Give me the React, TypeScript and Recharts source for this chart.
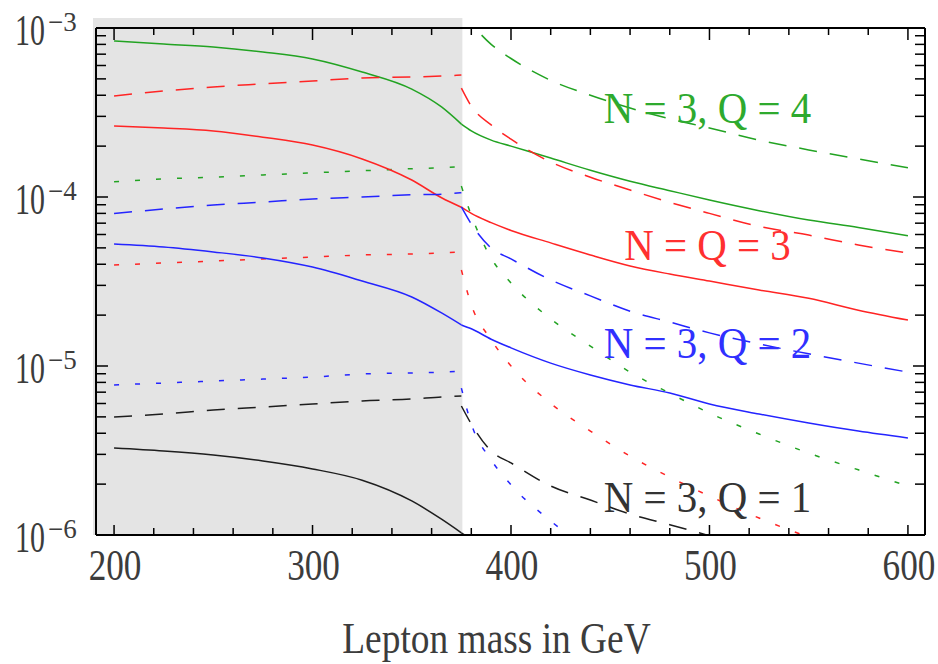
import React from 'react';
import { LineChart, Line, XAxis, YAxis, ReferenceArea, ReferenceDot } from 'recharts';

// ---- data ----
const massL = [200, 225, 250, 275, 300, 325, 350, 365, 375];
const massR = [375, 380, 390, 400, 420, 440, 460, 480, 500, 525, 550, 575, 600];

// N = 3, Q = 4 (green)
const q4SolidL = [8.37e-4, 8.04e-4, 7.72e-4, 7.21e-4, 6.56e-4, 5.49e-4, 4.35e-4, 3.41e-4, 2.7e-4];
const q4SolidR = [2.7e-4, 2.46e-4, 2.17e-4, 2.0e-4, 1.7e-4, 1.44e-4, 1.24e-4, 1.09e-4, 9.6e-5, 8.3e-5, 7.3e-5, 6.6e-5, 5.9e-5];
const q4DashR = [1.25e-3, 1.06e-3, 8.0e-4, 6.6e-4, 4.9e-4, 4.0e-4, 3.36e-4, 2.9e-4, 2.56e-4, 2.17e-4, 1.9e-4, 1.68e-4, 1.49e-4];
const q4DotL = [1.23e-4, 1.28e-4, 1.31e-4, 1.35e-4, 1.39e-4, 1.43e-4, 1.47e-4, 1.49e-4, 1.51e-4];
const q4DotR = [1.16e-4, 7.8e-5, 4.35e-5, 3.1e-5, 1.9e-5, 1.31e-5, 9.2e-6, 6.9e-6, 5.27e-6, 3.96e-6, 3.05e-6, 2.43e-6, 1.95e-6];

// N = Q = 3 (red)
const q3SolidL = [2.63e-4, 2.56e-4, 2.46e-4, 2.26e-4, 2.03e-4, 1.68e-4, 1.26e-4, 9.9e-5, 8.7e-5];
const q3SolidR = [8.7e-5, 8.0e-5, 7.05e-5, 6.34e-5, 5.35e-5, 4.54e-5, 3.91e-5, 3.5e-5, 3.18e-5, 2.82e-5, 2.52e-5, 2.14e-5, 1.87e-5];
const q3DashL = [3.96e-4, 4.24e-4, 4.48e-4, 4.67e-4, 4.86e-4, 5.06e-4, 5.13e-4, 5.2e-4, 5.27e-4];
const q3DashR = [4.41e-4, 3.45e-4, 2.67e-4, 2.2e-4, 1.61e-4, 1.31e-4, 1.1e-4, 9.3e-5, 8.0e-5, 6.7e-5, 5.95e-5, 5.2e-5, 4.66e-5];
const q3DotL = [3.96e-5, 4.07e-5, 4.18e-5, 4.3e-5, 4.41e-5, 4.54e-5, 4.6e-5, 4.66e-5, 4.73e-5];
const q3DotR = [3.7e-5, 2.3e-5, 1.43e-5, 1.0e-5, 6.0e-6, 4.12e-6, 2.93e-6, 2.2e-6, 1.7e-6, 1.26e-6, 9.7e-7, null, null];

// N = 3, Q = 2 (blue)
const q2SolidL = [5.27e-5, 5.06e-5, 4.73e-5, 4.36e-5, 3.85e-5, 3.18e-5, 2.56e-5, 2.06e-5, 1.75e-5];
const q2SolidR = [1.75e-5, 1.66e-5, 1.44e-5, 1.28e-5, 1.04e-5, 8.85e-6, 7.73e-6, 6.92e-6, 5.96e-6, 5.2e-6, 4.6e-6, 4.12e-6, 3.75e-6];
const q2DashL = [8.0e-5, 8.49e-5, 8.97e-5, 9.33e-5, 9.73e-5, 1.0e-4, 1.03e-4, 1.04e-4, 1.06e-4];
const q2DashR = [8.73e-5, 6.92e-5, 4.99e-5, 4.3e-5, 3.23e-5, 2.6e-5, 2.11e-5, 1.82e-5, 1.57e-5, 1.35e-5, 1.18e-5, 1.04e-5, 9.2e-6];
const q2DotL = [7.73e-6, 7.93e-6, 8.15e-6, 8.37e-6, 8.6e-6, 8.97e-6, 9.1e-6, 9.2e-6, 9.34e-6];
const q2DotR = [7.4e-6, 4.54e-6, 2.78e-6, 1.98e-6, 1.21e-6, 8.1e-7, null, null, null, null, null, null, null];

// N = 3, Q = 1 (black)
const q1SolidL = [3.27e-6, 3.14e-6, 2.97e-6, 2.74e-6, 2.46e-6, 2.11e-6, 1.59e-6, 1.24e-6, 1.03e-6];
const q1SolidR = [1.03e-6, 9.4e-7, null, null, null, null, null, null, null, null, null, null, null];
const q1DashL = [4.99e-6, 5.2e-6, 5.49e-6, 5.72e-6, 5.96e-6, 6.21e-6, 6.38e-6, 6.56e-6, 6.64e-6];
const q1DashR = [5.8e-6, 4.54e-6, 3.14e-6, 2.67e-6, 1.95e-6, 1.61e-6, 1.33e-6, 1.15e-6, 9.9e-7, null, null, null, null];

// shaded (excluded) mass region and axis ranges
const shadedMass = [189.4, 375.5];
const shadedTop = 1.146e-3;
const xDomain = [190.9, 608.6];
const yDomain = [1e-6, 1e-3];

// ticks
const xTicks = [200, 220, 240, 260, 280, 300, 320, 340, 360, 380, 400, 420, 440, 460, 480, 500, 520, 540, 560, 580, 600];
const xTickLabels = [200, 300, 400, 500, 600];
const yTicks = [
  1e-6, 2e-6, 3e-6, 4e-6, 5e-6, 6e-6, 7e-6, 8e-6, 9e-6,
  1e-5, 2e-5, 3e-5, 4e-5, 5e-5, 6e-5, 7e-5, 8e-5, 9e-5,
  1e-4, 2e-4, 3e-4, 4e-4, 5e-4, 6e-4, 7e-4, 8e-4, 9e-4,
  1e-3,
];
const yTickExponents = [-6, -5, -4, -3];

// curve labels
const curveLabels = ['N = 3, Q = 4', 'N = Q = 3', 'N = 3, Q = 2', 'N = 3, Q = 1'];
const curveLabelMass = 499;
const curveLabelValues = [2.74e-4, 4.24e-5, 1.11e-5, 1.37e-6];
const xAxisTitle = 'Lepton mass in GeV';

// ---- styles ----
const GREEN = '#22a322';
const RED = '#ff2424';
const BLUE = '#2424ff';
const BLACK = '#1e1e1e';
const TEXT = '#3c3c3c';
const FONT = "'Liberation Serif', 'DejaVu Serif', serif";
const DASH = '18 13';
const DOT = '5 16';
const labelColors = ['#2eaa2e', '#ff3030', '#3030ff', '#333333'];
const labelScale = [0.93, 0.93, 0.93, 0.93];

const zip = (mass: number[], vals: (number | null)[]) => mass.map((m, i) => ({ m, v: vals[i] }));

const series = [
  { id: 'q4s', color: GREEN, dash: undefined, mass: massL, vals: q4SolidL },
  { id: 'q4s2', color: GREEN, dash: undefined, mass: massR, vals: q4SolidR },
  { id: 'q4d2', color: GREEN, dash: DASH, mass: massR, vals: q4DashR },
  { id: 'q4t', color: GREEN, dash: DOT, mass: massL, vals: q4DotL },
  { id: 'q4t2', color: GREEN, dash: DOT, mass: massR, vals: q4DotR },
  { id: 'q3s', color: RED, dash: undefined, mass: massL, vals: q3SolidL },
  { id: 'q3s2', color: RED, dash: undefined, mass: massR, vals: q3SolidR },
  { id: 'q3d', color: RED, dash: DASH, mass: massL, vals: q3DashL },
  { id: 'q3d2', color: RED, dash: DASH, mass: massR, vals: q3DashR },
  { id: 'q3t', color: RED, dash: DOT, mass: massL, vals: q3DotL },
  { id: 'q3t2', color: RED, dash: DOT, mass: massR, vals: q3DotR },
  { id: 'q2s', color: BLUE, dash: undefined, mass: massL, vals: q2SolidL },
  { id: 'q2s2', color: BLUE, dash: undefined, mass: massR, vals: q2SolidR },
  { id: 'q2d', color: BLUE, dash: DASH, mass: massL, vals: q2DashL },
  { id: 'q2d2', color: BLUE, dash: DASH, mass: massR, vals: q2DashR },
  { id: 'q2t', color: BLUE, dash: DOT, mass: massL, vals: q2DotL },
  { id: 'q2t2', color: BLUE, dash: DOT, mass: massR, vals: q2DotR },
  { id: 'q1s', color: BLACK, dash: undefined, mass: massL, vals: q1SolidL },
  { id: 'q1s2', color: BLACK, dash: undefined, mass: massR, vals: q1SolidR },
  { id: 'q1d', color: BLACK, dash: DASH, mass: massL, vals: q1DashL },
  { id: 'q1d2', color: BLACK, dash: DASH, mass: massR, vals: q1DashR },
];

const isMajorY = (v: number) => {
  const l = Math.log10(v);
  return Math.abs(l - Math.round(l)) < 1e-6 && yTickExponents.includes(Math.round(l));
};

// condensed text: horizontally scaled via transform
const CText = ({ x, y, sx, size, anchor, fill, children }: any) => (
  <g transform={`translate(${x},${y}) scale(${sx},1)`}>
    <text x={0} y={0} textAnchor={anchor} fontFamily={FONT} fontSize={size} fill={fill}>{children}</text>
  </g>
);

const XTickBottom = (props: any) => {
  const { x, y, payload } = props;
  const v = payload.value;
  const major = xTickLabels.includes(v);
  return (
    <g>
      <line x1={x} y1={y} x2={x} y2={y - (major ? 10 : 7)} stroke="#000" strokeWidth={1.5} />
      {major && <CText x={x + 1} y={y + 45} sx={0.8} size={44} anchor="middle" fill={TEXT}>{v}</CText>}
    </g>
  );
};

const XTickTop = (props: any) => {
  const { x, y, payload } = props;
  const major = xTickLabels.includes(payload.value);
  return <line x1={x} y1={y} x2={x} y2={y + (major ? 12 : 7)} stroke="#000" strokeWidth={1.5} />;
};

const YTickLeft = (props: any) => {
  const { x, y, payload } = props;
  const v = payload.value;
  const major = isMajorY(v);
  const e = Math.round(Math.log10(v));
  return (
    <g>
      <line x1={x} y1={y} x2={x + (major ? 12 : 10)} y2={y} stroke="#000" strokeWidth={1.5} />
      {major && (
        <g>
          <CText x={x - 81} y={y + 17} sx={0.68} size={44} anchor="start" fill={TEXT}>10</CText>
          <text x={x - 48} y={y + 3} fontFamily={FONT} fontSize={27} fill={TEXT}>{'\u2212' + String(-e)}</text>
        </g>
      )}
    </g>
  );
};

const YTickRight = (props: any) => {
  const { x, y, payload } = props;
  const major = isMajorY(payload.value);
  return <line x1={x} y1={y} x2={x - (major ? 12 : 10)} y2={y} stroke="#000" strokeWidth={1.5} />;
};

const makeCurveLabel = (i: number) => (props: any) => {
  const vb = props.viewBox || {};
  return (
    <CText x={vb.x} y={vb.y} sx={labelScale[i]} size={44} anchor="middle" fill={labelColors[i]}>
      {curveLabels[i]}
    </CText>
  );
};

const axisTitle = (props: any) => {
  const vb = props.viewBox || { x: 96, y: 535, width: 829, height: 30 };
  return (
    <CText x={vb.x + vb.width / 2 - 14} y={vb.y + 118} sx={0.85} size={44} anchor="middle" fill={TEXT}>
      {xAxisTitle}
    </CText>
  );
};

const axisLine = { stroke: '#000', strokeWidth: 2 };

export default function App() {
  return (
    <div style={{ position: 'absolute', left: 0, top: 0, width: 938, height: 664, background: '#fff' }}>
      <LineChart width={938} height={664} margin={{ top: 0, right: 0, left: 36, bottom: 99 }}>
        <XAxis dataKey="m" type="number" domain={xDomain} allowDataOverflow ticks={xTicks} interval={0}
          tick={<XTickBottom />} tickSize={0} tickMargin={0} height={30} axisLine={axisLine} tickLine={false}
          label={axisTitle} />
        <XAxis xAxisId="top" orientation="top" dataKey="m" type="number" domain={xDomain} allowDataOverflow
          ticks={xTicks} interval={0} tick={<XTickTop />} tickSize={0} tickMargin={0} height={28}
          axisLine={axisLine} tickLine={false} />
        <YAxis scale="log" type="number" domain={yDomain} allowDataOverflow ticks={yTicks} interval={0}
          tick={<YTickLeft />} tickSize={0} tickMargin={0} width={60} axisLine={axisLine} tickLine={false} />
        <YAxis yAxisId="right" orientation="right" scale="log" type="number" domain={yDomain} allowDataOverflow
          ticks={yTicks} interval={0} tick={<YTickRight />} tickSize={0} tickMargin={0} width={13}
          axisLine={axisLine} tickLine={false} />
        <ReferenceArea x1={shadedMass[0]} x2={shadedMass[1]} y1={yDomain[0]} y2={shadedTop}
          fill="#e4e4e4" fillOpacity={1} stroke="none" ifOverflow="visible" />
        {series.map((s) => (
          <Line key={s.id} data={zip(s.mass, s.vals)} dataKey="v" type="monotone" stroke={s.color}
            strokeWidth={1.5} strokeDasharray={s.dash} dot={false} activeDot={false}
            isAnimationActive={false} connectNulls={false} />
        ))}
        {curveLabels.map((t, i) => (
          <ReferenceDot key={t} x={curveLabelMass} y={curveLabelValues[i]} r={0} fill="none" stroke="none"
            label={makeCurveLabel(i)} />
        ))}
      </LineChart>
    </div>
  );
}
